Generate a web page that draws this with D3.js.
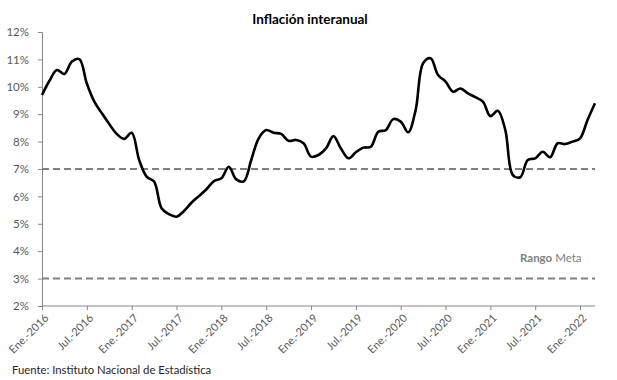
<!DOCTYPE html>
<html><head><meta charset="utf-8">
<script src="https://cdn.jsdelivr.net/npm/d3@7"></script>
<style>body{margin:0;background:#fff}svg{display:block}text{font-family:Lato,"Open Sans",sans-serif}</style>
</head><body><svg id="c" width="617" height="380"></svg>
<script>
const inflation = [9.70,10.22,10.61,10.47,10.92,11.01,10.12,9.46,9.04,8.64,8.28,8.10,
  8.32,7.33,6.72,6.54,5.57,5.35,5.26,5.47,5.77,6.01,6.26,6.56,
  6.66,7.08,6.62,6.55,7.33,8.12,8.42,8.32,8.28,8.03,8.06,7.94,
  7.45,7.51,7.75,8.20,7.75,7.39,7.61,7.78,7.81,8.36,8.42,8.82,
  8.73,8.34,9.15,10.86,11.04,10.43,10.19,9.82,9.94,9.76,9.62,9.46,
  8.93,9.13,8.42,6.78,6.70,7.33,7.39,7.63,7.43,7.94,7.91,8.00,
  8.12,8.79,9.40];
const targetRange = [3, 7];
const yTicks = [2,3,4,5,6,7,8,9,10,11,12];
const xTickLabels = ["Ene.-2016","Jul.-2016","Ene.-2017","Jul.-2017","Ene.-2018","Jul.-2018","Ene.-2019","Jul.-2019","Ene.-2020","Jul.-2020","Ene.-2021","Jul.-2021","Ene.-2022"];
const xTickIndex = [0,6,12,18,24,30,36,42,48,54,60,66,72];
const title = "Inflación interanual";
const source = "Fuente: Instituto Nacional de Estadística";

const svg = d3.select("#c");
const m = {l:42, r:22, t:32, b:74};
const W = 617, H = 380;
const x = d3.scaleLinear().domain([0, inflation.length-1]).range([m.l, W-m.r]);
const y = d3.scaleLinear().domain([2,12]).range([H-m.b, m.t]);

svg.append("text").attr("x",310).attr("y",24).attr("text-anchor","middle")
  .attr("font-size",13.5).attr("font-weight","bold").attr("fill","#000").text(title);

// y axis
const ya = svg.append("g").attr("transform",`translate(${m.l},0)`)
  .call(d3.axisLeft(y).tickValues(yTicks).tickSize(4).tickFormat(d=>d+"%"));
ya.select(".domain").attr("stroke","#868686");
ya.selectAll(".tick line").attr("stroke","#868686");
ya.selectAll(".tick text").attr("fill","#595959").attr("font-size",11.5).attr("x",-13);

// x axis
const xa = svg.append("g").attr("transform",`translate(0,${H-m.b})`)
  .call(d3.axisBottom(x).tickValues(xTickIndex).tickSize(4).tickFormat((d,i)=>xTickLabels[i]));
xa.select(".domain").attr("stroke","#868686").attr("d",`M${m.l},0H${W-m.r}`);
xa.selectAll(".tick line").attr("stroke","#868686");
xa.selectAll(".tick text").attr("fill","#595959").attr("font-size",11)
  .attr("text-anchor","end").attr("transform","translate(4,10) rotate(-45)").attr("dy","0.35em").attr("y",0).attr("x",0);

// target lines
targetRange.forEach(v=>{
  svg.append("line").attr("x1",m.l).attr("x2",W-m.r).attr("y1",y(v)).attr("y2",y(v))
    .attr("stroke","#7f7f7f").attr("stroke-width",2).attr("stroke-dasharray","7,4");
});
const rm = svg.append("text").attr("x",520).attr("y",262).attr("font-size",11.5).attr("fill","#7f7f7f");
rm.append("tspan").attr("font-weight","bold").text("Rango");
rm.append("tspan").text(" Meta");

// line
svg.append("path").datum(inflation)
  .attr("d", d3.line().x((d,i)=>x(i)).y(d=>y(d)).curve(d3.curveCatmullRom.alpha(0.5)))
  .attr("fill","none").attr("stroke","#000").attr("stroke-width",2.6);

svg.append("text").attr("x",12).attr("y",374).attr("font-size",11.3).attr("fill","#262626").text(source);
</script></body></html>
